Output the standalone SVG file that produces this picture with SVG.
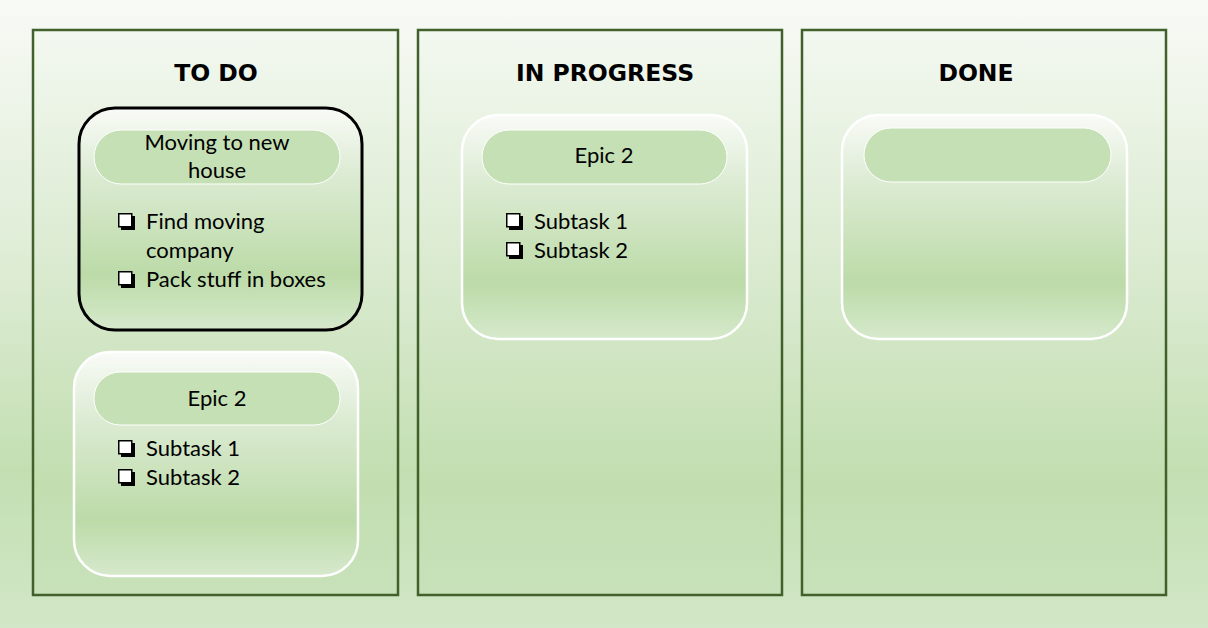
<svg xmlns="http://www.w3.org/2000/svg" width="1208" height="628" viewBox="0 0 1208 628">
<defs>
<linearGradient id="bg" x1="0" y1="0" x2="0" y2="1">
<stop offset="0" stop-color="#f8faf6"/>
<stop offset="0.45" stop-color="#dcebd2"/>
<stop offset="0.75" stop-color="#c3dfb2"/>
<stop offset="1" stop-color="#d2e7c7"/>
</linearGradient>
<linearGradient id="col" x1="0" y1="0" x2="0" y2="1">
<stop offset="0" stop-color="#f3f8f0"/>
<stop offset="0.45" stop-color="#d8e9cd"/>
<stop offset="0.8" stop-color="#c2deb0"/>
<stop offset="1" stop-color="#c8e1ba"/>
</linearGradient>
<linearGradient id="card" x1="0" y1="0" x2="0" y2="1">
<stop offset="0" stop-color="#f9fbf7"/>
<stop offset="0.3" stop-color="#dcebd3"/>
<stop offset="0.75" stop-color="#bcdba8"/>
<stop offset="1" stop-color="#d6e9cc"/>
</linearGradient>
<g id="cb">
<rect x="3" y="3" width="14" height="14" fill="#000"/>
<rect x="0.75" y="0.75" width="13" height="13" fill="#fff" stroke="#000" stroke-width="1.5"/>
</g>
</defs>
<style>
.col{fill:url(#col);stroke:#41602b;stroke-width:2.5}
.card{fill:url(#card);stroke:#fff;stroke-width:2.5}
.card.sel{stroke:#000;stroke-width:3}
.pill{fill:#c5e0b4;stroke:#fff;stroke-width:1}
.title{font-family:"DejaVu Sans",sans-serif;font-weight:bold;font-size:23.5px;fill:#000;text-anchor:middle}
.t{font-family:Lato,"Open Sans",sans-serif;font-size:22px;fill:#000}
.c{text-anchor:middle}
</style>
<rect x="0" y="0" width="1208" height="628" fill="url(#bg)"/>

<g id="col-todo">
<rect class="col" x="33" y="30" width="365" height="565"/>
<text class="title" x="216" y="81">TO DO</text>
</g>
<g id="col-progress">
<rect class="col" x="418" y="30" width="364" height="565"/>
<text class="title" x="605" y="81">IN PROGRESS</text>
</g>
<g id="col-done">
<rect class="col" x="802" y="30" width="364" height="565"/>
<text class="title" x="976" y="81">DONE</text>
</g>

<g id="card-moving">
<rect class="card sel" x="79" y="108" width="283" height="222" rx="36"/>
<rect class="pill" x="94" y="130" width="246" height="54" rx="27"/>
<text class="t c" x="217" y="150">Moving to new</text>
<text class="t c" x="217" y="178">house</text>
<use href="#cb" x="118" y="213"/>
<text class="t" x="146" y="229">Find moving</text>
<text class="t" x="146" y="258">company</text>
<use href="#cb" x="118" y="271"/>
<text class="t" x="146" y="287">Pack stuff in boxes</text>
</g>

<g id="card-epic2-todo">
<rect class="card" x="74" y="352" width="284" height="224" rx="36"/>
<rect class="pill" x="94" y="372" width="246" height="53" rx="26"/>
<text class="t c" x="217" y="406">Epic 2</text>
<use href="#cb" x="118" y="440"/>
<text class="t" x="146" y="456">Subtask 1</text>
<use href="#cb" x="118" y="469"/>
<text class="t" x="146" y="485">Subtask 2</text>
</g>

<g id="card-epic2-progress">
<rect class="card" x="462" y="115" width="285" height="224" rx="36"/>
<rect class="pill" x="482" y="130" width="245" height="54" rx="27"/>
<text class="t c" x="604" y="163">Epic 2</text>
<use href="#cb" x="506" y="213"/>
<text class="t" x="534" y="229">Subtask 1</text>
<use href="#cb" x="506" y="242"/>
<text class="t" x="534" y="258">Subtask 2</text>
</g>

<g id="card-done">
<rect class="card" x="842" y="115" width="285" height="224" rx="36"/>
<rect class="pill" x="864" y="128" width="247" height="54" rx="27"/>
</g>
</svg>
